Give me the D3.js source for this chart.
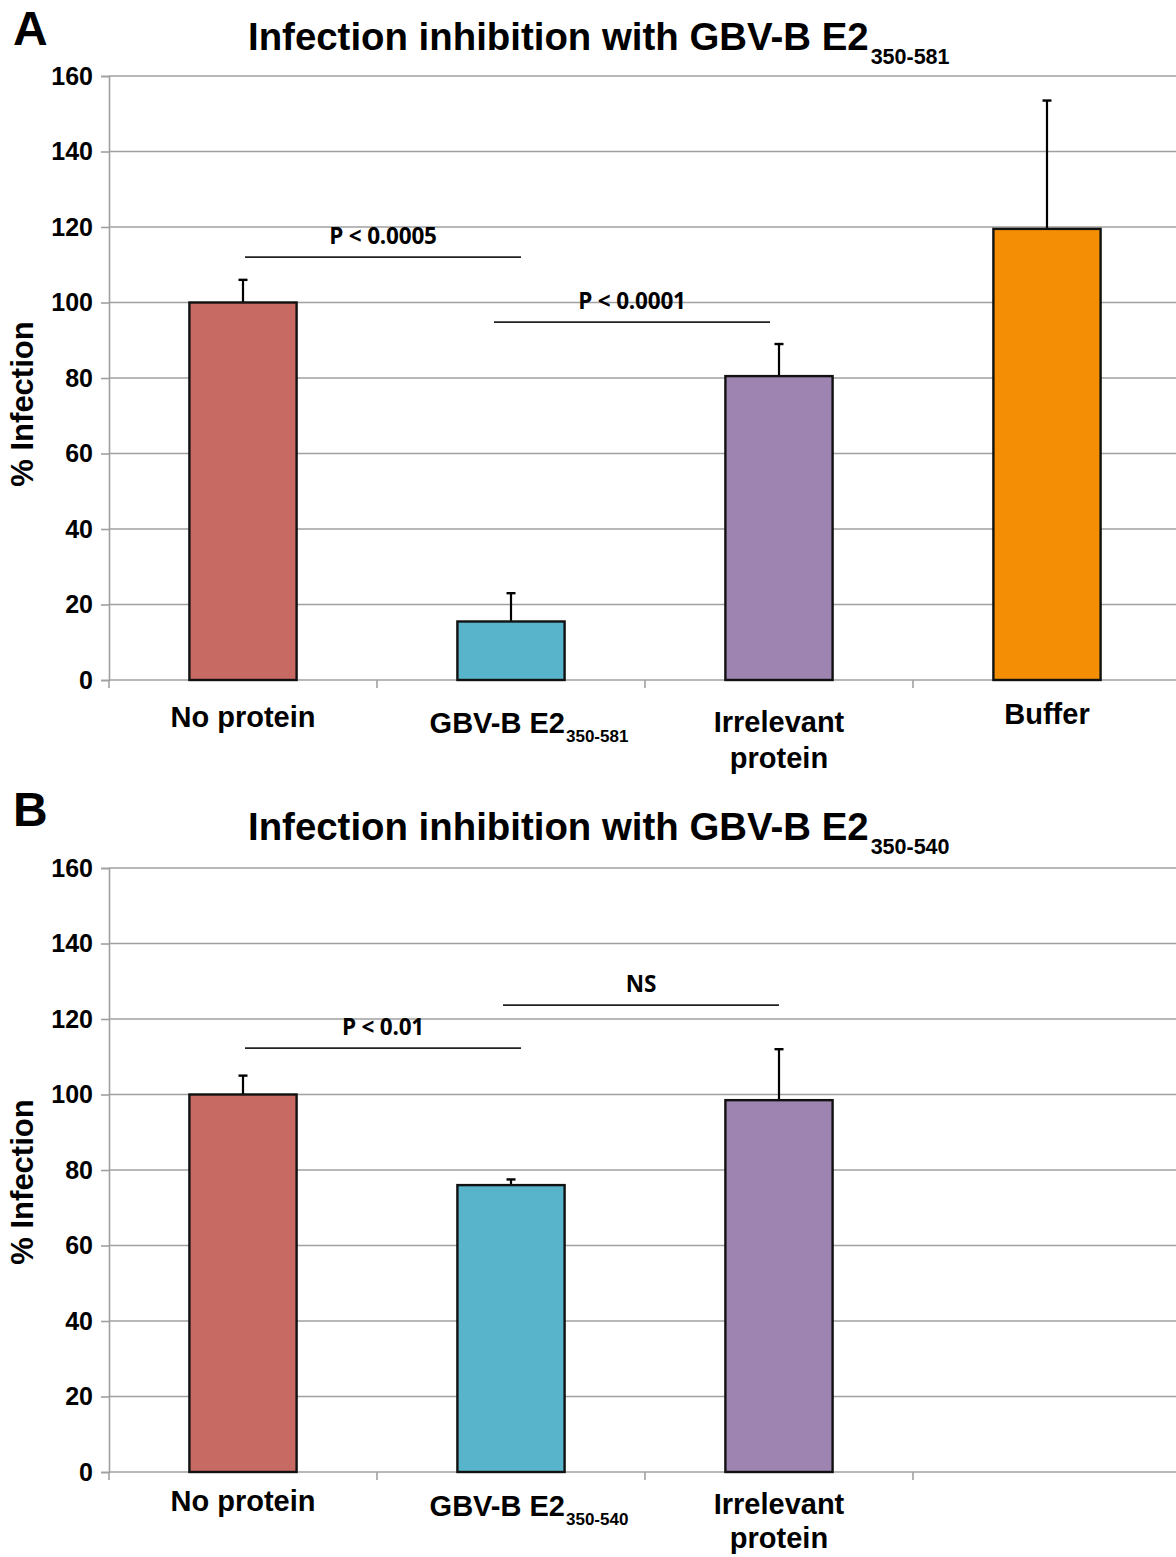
<!DOCTYPE html>
<html>
<head>
  <meta charset="UTF-8">
  <title>Infection inhibition with GBV-B E2</title>
  <style>
    body { margin: 0; background: #fff; }
    svg text { font-family: "Liberation Sans", Arial, sans-serif; font-weight: bold; }
    .pval { font-family: "Open Sans", sans-serif; font-weight: 700; letter-spacing: -0.2px; }
  </style>
</head>
<body>
<svg id="chart"></svg>

<script src="https://d3js.org/d3.v7.min.js"></script>
<script>

// data
const yTicks = [0, 20, 40, 60, 80, 100, 120, 140, 160];

const categoriesA = ["No protein", "GBV-B E2", "Irrelevant protein", "Buffer"];
const labelLinesA = [["No protein"], ["GBV-B E2"], ["Irrelevant", "protein"], ["Buffer"]];
const labelSubsA = ["", "350-581", "", ""];
const valuesA = [100, 15.5, 80.5, 119.5];
const errorsA = [6, 7.5, 8.5, 34];
const colorsA = ["#c76a64", "#57b4ca", "#9e84b0", "#f38e05"];
const pLabelsA = ["P < 0.0005", "P < 0.0001"];
const pFromA = [0, 1];
const pToA = [1, 2];
const pLevelA = [112, 94.8];

const categoriesB = ["No protein", "GBV-B E2", "Irrelevant protein"];
const labelLinesB = [["No protein"], ["GBV-B E2"], ["Irrelevant", "protein"]];
const labelSubsB = ["", "350-540", ""];
const valuesB = [100, 76, 98.5];
const errorsB = [5, 1.5, 13.5];
const colorsB = ["#c76a64", "#57b4ca", "#9e84b0"];
const pLabelsB = ["P < 0.01", "NS"];
const pFromB = [0, 1];
const pToB = [1, 2];
const pLevelB = [112.3, 123.7];

let width = 1176, height = 1557;
let svg = d3.select("#chart").attr("width", width).attr("height", height);

// both panels share 4 slots on the x axis (panel B leaves the last one empty)
let slots = ["s0", "s1", "s2", "s3"];

function drawPanel(opt) {
    let g = svg.append("g");
    let y = d3.scaleLinear().domain([0, 160]).range([opt.bottom, opt.bottom - 604]);
    let x = d3.scaleBand().domain(slots).range([109, 1181]).paddingInner(0.6).paddingOuter(0.3);
    // position between bar centres, in units of categories
    let xc = d3.scaleLinear().domain([0, 1]).range([x("s0") + x.bandwidth() / 2, x("s1") + x.bandwidth() / 2]);

    // panel letter + title
    g.append("text").attr("x", 13).attr("y", opt.letterY).attr("font-size", 48).text(opt.letter);
    let t = g.append("text").attr("x", 248).attr("y", opt.titleY).attr("font-size", 38.4);
    t.append("tspan").text("Infection inhibition with GBV-B E2");
    t.append("tspan").attr("font-size", 21.5).attr("dx", 2).attr("dy", 14).text(opt.titleSub);

    // gridlines
    g.append("g").selectAll("line").data(yTicks.slice(1)).join("line")
        .attr("x1", 109).attr("x2", 1181)
        .attr("y1", d => y(d)).attr("y2", d => y(d))
        .attr("stroke", "#a0a0a0").attr("stroke-width", 1.6);

    // y axis
    let yAxis = g.append("g").attr("transform", "translate(109,0)")
        .call(d3.axisLeft(y).tickValues(yTicks).tickSize(8).tickPadding(8));
    yAxis.select(".domain").attr("stroke", "#a0a0a0").attr("stroke-width", 1.6);
    yAxis.selectAll(".tick line").attr("stroke", "#a0a0a0").attr("stroke-width", 1.6);
    yAxis.selectAll(".tick text").attr("font-size", 25).attr("fill", "#000")
        .style("font-family", "Liberation Sans").style("font-weight", "bold");

    g.append("text")
        .attr("transform", "translate(33," + opt.yTitleMid + ") rotate(-90)")
        .attr("text-anchor", "middle").attr("font-size", 31).text("% Infection");

    // x axis: line + ticks at band boundaries
    g.append("line").attr("x1", 109).attr("x2", 1181).attr("y1", y(0)).attr("y2", y(0))
        .attr("stroke", "#a0a0a0").attr("stroke-width", 1.6);
    let bounds = slots.map(s => x(s) - x.step() * x.paddingOuter()).concat([1181]);
    g.append("g").selectAll("line").data(bounds).join("line")
        .attr("x1", d => d).attr("x2", d => d)
        .attr("y1", y(0)).attr("y2", y(0) + 8)
        .attr("stroke", "#a0a0a0").attr("stroke-width", 1.6);

    let rows = opt.categories.map((c, i) => ({
        slot: slots[i], value: opt.values[i], err: opt.errors[i], color: opt.colors[i],
        lines: opt.lines[i], sub: opt.subs[i], ly: opt.labelY[i]
    }));

    // error bars (upper only), drawn before bars
    let eb = g.append("g").selectAll("g").data(rows).join("g")
        .attr("transform", d => "translate(" + (x(d.slot) + x.bandwidth() / 2) + ",0)");
    eb.append("line").attr("y1", d => y(d.value)).attr("y2", d => y(d.value + d.err))
        .attr("stroke", "#000").attr("stroke-width", 2.2);
    eb.append("line").attr("x1", -4.5).attr("x2", 4.5)
        .attr("y1", d => y(d.value + d.err)).attr("y2", d => y(d.value + d.err))
        .attr("stroke", "#000").attr("stroke-width", 2.4);

    // bars
    g.append("g").selectAll("rect").data(rows).join("rect")
        .attr("x", d => x(d.slot)).attr("width", x.bandwidth())
        .attr("y", d => y(d.value)).attr("height", d => y(0) - y(d.value))
        .attr("fill", d => d.color).attr("stroke", "#111").attr("stroke-width", 2.4);

    // category labels
    let lab = g.append("g").selectAll("text").data(rows).join("text")
        .attr("text-anchor", "middle").attr("font-size", 29)
        .attr("y", d => d.ly);
    lab.each(function (d) {
        let el = d3.select(this);
        let cx = x(d.slot) + x.bandwidth() / 2 + (d.sub ? 18 : 0);
        d.lines.forEach((ln, k) => {
            el.append("tspan").attr("x", cx).attr("dy", k === 0 ? 0 : opt.lineGap).text(ln);
        });
        if (d.sub) el.append("tspan").attr("font-size", 17).attr("dx", 1).attr("dy", 9).text(d.sub);
    });

    // significance brackets
    let ann = opt.pLabels.map((p, i) => ({ label: p, from: opt.pFrom[i], to: opt.pTo[i], level: opt.pLevel[i], sh: opt.pShift[i] }));
    let ag = g.append("g").selectAll("g").data(ann).join("g");
    ag.append("line")
        .attr("x1", d => xc(d.from) + d.sh[0])
        .attr("x2", d => xc(d.to) + d.sh[1])
        .attr("y1", d => y(d.level)).attr("y2", d => y(d.level))
        .attr("stroke", "#222").attr("stroke-width", 1.8);
    ag.append("text").attr("class", "pval").attr("text-anchor", "middle").attr("font-size", 22.5)
        .attr("x", d => (xc(d.from) + xc(d.to)) / 2 + d.sh[0] + 4)
        .attr("y", d => y(d.level) - 13)
        .text(d => d.label);
}

drawPanel({
    letter: "A", titleSub: "350-581", bottom: 680, letterY: 45, titleY: 50, yTitleMid: 404,
    labelY: [727, 733, 732, 724], lineGap: 36,
    categories: categoriesA, lines: labelLinesA, subs: labelSubsA,
    values: valuesA, errors: errorsA, colors: colorsA,
    pLabels: pLabelsA, pFrom: pFromA, pTo: pToA, pLevel: pLevelA,
    pShift: [[2, 10], [-17, -9]]
});

drawPanel({
    letter: "B", titleSub: "350-540", bottom: 1472, letterY: 826, titleY: 840, yTitleMid: 1182,
    labelY: [1511, 1516, 1514], lineGap: 34,
    categories: categoriesB, lines: labelLinesB, subs: labelSubsB,
    values: valuesB, errors: errorsB, colors: colorsB,
    pLabels: pLabelsB, pFrom: pFromB, pTo: pToB, pLevel: pLevelB,
    pShift: [[2, 10], [-8, 0]]
});

</script>
</body>
</html>
